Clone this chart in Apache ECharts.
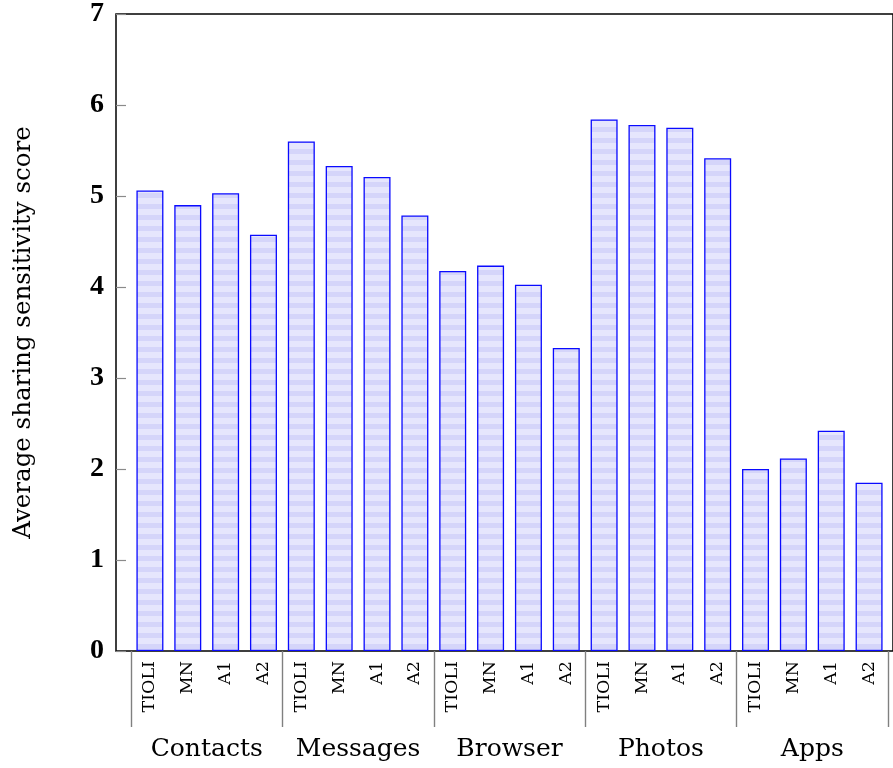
<!DOCTYPE html>
<html>
<head>
<meta charset="utf-8">
<script src="https://cdn.jsdelivr.net/npm/echarts@6/dist/echarts.min.js"></script>
<style>
html,body{margin:0;padding:0;background:#fff;}
#chart{width:893px;height:768px;}
</style>
</head>
<body>
<div id="chart"></div>
<script>
// ---- data ----
const groups = ['Contacts', 'Messages', 'Browser', 'Photos', 'Apps'];
const conditions = ['TIOLI', 'MN', 'A1', 'A2'];
const contacts = [5.06, 4.90, 5.03, 4.575];
const messages = [5.60, 5.33, 5.21, 4.785];
const browser  = [4.175, 4.235, 4.025, 3.33];
const photos   = [5.84, 5.78, 5.75, 5.415];
const apps     = [2.00, 2.115, 2.42, 1.85];
const yTicks   = [0, 1, 2, 3, 4, 5, 6, 7];
const yTitle = 'Average sharing sensitivity score';

const groupValues = [contacts, messages, browser, photos, apps];
const cats = [];
const values = [];
groups.forEach((g, gi) => {
  conditions.forEach((c, ci) => {
    cats.push(g + '|' + c);
    values.push(groupValues[gi][ci]);
  });
});

// striped fill pattern
const pc = document.createElement('canvas');
pc.width = 4; pc.height = 11;
const ctx = pc.getContext('2d');
ctx.fillStyle = '#e6e6fd'; ctx.fillRect(0, 0, 4, 11);
ctx.fillStyle = '#d5d5fa'; ctx.fillRect(0, 6, 4, 5);

const chart = echarts.init(document.getElementById('chart'), null, {renderer: 'canvas'});
const serif = 'DejaVu Serif';
const option = {
  animation: false,
  backgroundColor: '#fff',
  grid: [
    {left: 131, width: 757, top: 14, height: 637, show: false},
    {left: 116, width: 790, top: 14, height: 637, show: true, borderColor: '#000', borderWidth: 1.5, backgroundColor: 'transparent'}
  ],
  xAxis: [
    {
      type: 'category', gridIndex: 0, data: cats, position: 'bottom',
      axisLine: {show: false}, axisTick: {show: false},
      axisLabel: {
        interval: 0, rotate: 90, margin: 10,
        fontFamily: serif, fontSize: 17.5, color: '#000',
        formatter: v => v.split('|')[1]
      }
    },
    {
      type: 'category', gridIndex: 0, data: groups, position: 'bottom',
      axisLine: {show: false},
      axisTick: {show: true, length: 76, interval: 0, lineStyle: {color: '#808080', width: 1.4}},
      axisLabel: {interval: 0, margin: 86, fontFamily: serif, fontSize: 25, color: '#000'}
    },
    {type: 'value', gridIndex: 1, min: 0, max: 1, show: false}
  ],
  yAxis: [
    {type: 'value', gridIndex: 0, min: 0, max: 7, interval: 1, show: false},
    {
      type: 'value', gridIndex: 1, min: yTicks[0], max: yTicks[yTicks.length - 1], interval: 1,
      axisLine: {show: false},
      axisTick: {show: true, inside: true, length: 10, lineStyle: {color: '#8a8a8a', width: 1.2}},
      splitLine: {show: false},
      axisLabel: {margin: 12, fontFamily: 'Liberation Serif', fontWeight: 'bold', fontSize: 28, color: '#000'},
      name: yTitle, nameLocation: 'middle', nameGap: 80, nameRotate: 90,
      nameTextStyle: {fontFamily: serif, fontSize: 24.5, color: '#000'}
    }
  ],
  series: [{
    type: 'bar', xAxisIndex: 0, yAxisIndex: 0,
    data: values, barWidth: 27,
    itemStyle: {
      color: {image: pc, repeat: 'repeat'},
      borderColor: '#0a0aff', borderWidth: 1.3
    }
  }]
};
chart.setOption(option);
</script>
</body>
</html>
